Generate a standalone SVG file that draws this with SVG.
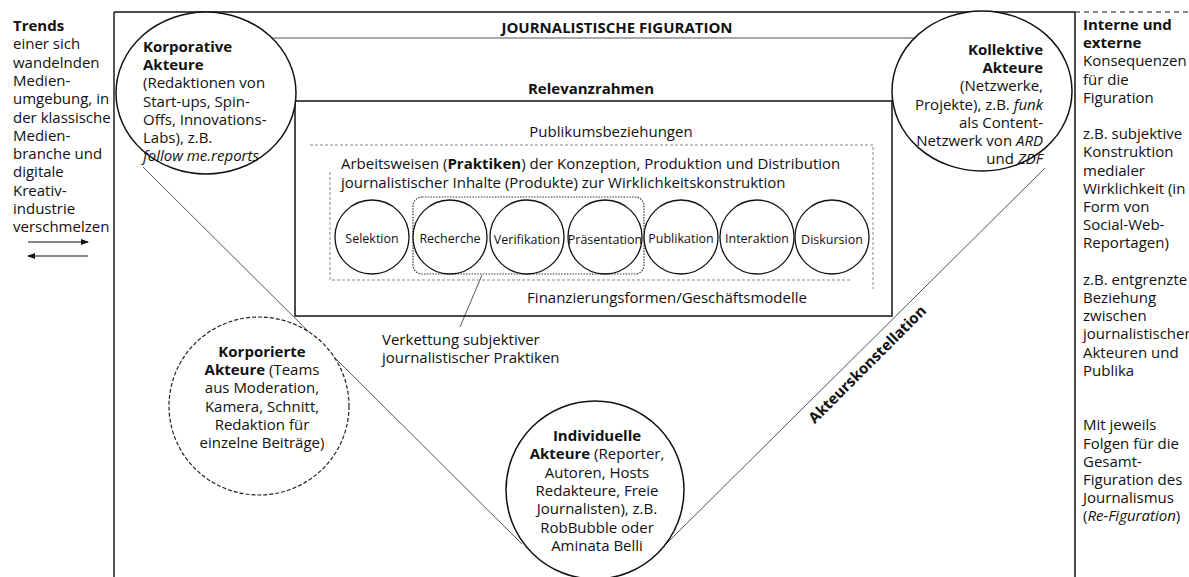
<svg xmlns="http://www.w3.org/2000/svg" width="1189" height="577" viewBox="0 0 1189 577">
<style>
text{font-family:"Open Sans","Noto Sans","DejaVu Sans",sans-serif;fill:#111;font-size:15px}
.b{font-weight:bold}
.i{font-style:italic}
.sm{font-size:12.5px}
.frame{fill:none;stroke:#111;stroke-width:1.5}
.thin{fill:none;stroke:#555;stroke-width:1}
.node{fill:#fff;stroke:#111;stroke-width:1.5}
.practice{fill:#fff;stroke:#111;stroke-width:1.3}
.dash{fill:none;stroke:#888;stroke-width:1;stroke-dasharray:3 2}
</style>
<defs>
<marker id="ah" markerWidth="8" markerHeight="6" refX="7" refY="3" orient="auto" markerUnits="userSpaceOnUse">
<path d="M0,0 L8,3 L0,6 z" fill="#111"/>
</marker>
</defs>
<rect width="1189" height="577" fill="#fff"/>

<g id="frame">
<line x1="114" y1="12" x2="114" y2="577" stroke="#555" stroke-width="2"/>
<line x1="114" y1="12" x2="1075" y2="12" class="frame"/>
<line x1="1075" y1="12" x2="1075" y2="577" class="frame"/>
<line x1="1075" y1="12" x2="1189" y2="12" stroke="#111" stroke-width="1.2" stroke-dasharray="5 4"/>
<text x="617" y="33" text-anchor="middle" class="b" font-size="14">JOURNALISTISCHE FIGURATION</text>
</g>

<g id="connectors">
<line x1="270" y1="38" x2="917" y2="38" class="thin"/>
<line x1="143" y1="167" x2="522" y2="544" class="thin"/>
<line x1="1045" y1="168" x2="665" y2="545" class="thin"/>
<line x1="482" y1="275" x2="460" y2="327" class="thin"/>
</g>

<g id="relevanzrahmen">
<rect x="295" y="101" width="597" height="215" class="frame"/>
<text x="591" y="94" text-anchor="middle" class="b">Relevanzrahmen</text>
<text x="611" y="137" text-anchor="middle">Publikumsbeziehungen</text>
<text x="667" y="303" text-anchor="middle">Finanzierungsformen/Geschäftsmodelle</text>
</g>

<g id="praktiken">
<path d="M310,145 H873 V289 M330,172 V280 H852" class="dash"/>
<text x="341" y="169">Arbeitsweisen (<tspan class="b">Praktiken</tspan>) der Konzeption, Produktion und Distribution</text>
<text x="341" y="188">journalistischer Inhalte (Produkte) zur Wirklichkeitskonstruktion</text>
</g>

<g id="verkettung">
<rect x="413" y="197" width="231" height="77" rx="9" fill="none" stroke="#333" stroke-width="1.2" stroke-dasharray="1.5 1.3"/>
<text x="382" y="345">Verkettung subjektiver</text>
<text x="382" y="363">journalistischer Praktiken</text>
</g>

<g id="selektion"><circle cx="372" cy="237" r="37" class="practice"/><text x="372" y="243" text-anchor="middle" class="sm">Selektion</text></g>
<g id="recherche"><circle cx="450" cy="237" r="37" class="practice"/><text x="450" y="243" text-anchor="middle" class="sm">Recherche</text></g>
<g id="verifikation"><circle cx="527" cy="237" r="37" class="practice"/><text x="527" y="244" text-anchor="middle" class="sm">Verifikation</text></g>
<g id="praesentation"><circle cx="605" cy="237" r="37" class="practice"/><text x="605" y="244" text-anchor="middle" class="sm">Präsentation</text></g>
<g id="publikation"><circle cx="681" cy="237" r="37" class="practice"/><text x="681" y="243" text-anchor="middle" class="sm">Publikation</text></g>
<g id="interaktion"><circle cx="757" cy="237" r="37" class="practice"/><text x="757" y="243" text-anchor="middle" class="sm">Interaktion</text></g>
<g id="diskursion"><circle cx="832" cy="237" r="37" class="practice"/><text x="832" y="244" text-anchor="middle" class="sm">Diskursion</text></g>

<g id="korporative">
<ellipse cx="206" cy="93" rx="90" ry="81" class="node"/>
<text x="143" y="52"><tspan class="b">Korporative</tspan><tspan x="143" dy="18.2" class="b">Akteure</tspan><tspan x="143" dy="18.2">(Redaktionen von</tspan><tspan x="143" dy="18.2">Start-ups, Spin-</tspan><tspan x="143" dy="18.2">Offs, Innovations-</tspan><tspan x="143" dy="18.2">Labs), z.B.</tspan><tspan x="143" dy="18.2" class="i">follow me.reports</tspan></text>
</g>

<g id="kollektive">
<ellipse cx="982" cy="91" rx="90" ry="80" class="node"/>
<text x="1043" y="55" text-anchor="end"><tspan class="b">Kollektive</tspan><tspan x="1043" dy="18.2" class="b">Akteure</tspan><tspan x="1043" dy="18.2">(Netzwerke,</tspan><tspan x="1043" dy="18.2">Projekte), z.B. <tspan class="i">funk</tspan></tspan><tspan x="1043" dy="18.2">als Content-</tspan><tspan x="1043" dy="18.2">Netzwerk von <tspan class="i">ARD</tspan></tspan><tspan x="1043" dy="18.2">und <tspan class="i">ZDF</tspan></tspan></text>
</g>

<g id="korporierte">
<ellipse cx="259" cy="406" rx="90" ry="89" fill="#fff" stroke="#222" stroke-width="1.2" stroke-dasharray="4 2"/>
<text x="262" y="357" text-anchor="middle"><tspan class="b">Korporierte</tspan><tspan x="262" dy="18.2"><tspan class="b">Akteure</tspan> (Teams</tspan><tspan x="262" dy="18.2">aus Moderation,</tspan><tspan x="262" dy="18.2">Kamera, Schnitt,</tspan><tspan x="262" dy="18.2">Redaktion für</tspan><tspan x="262" dy="18.2">einzelne Beiträge)</tspan></text>
</g>

<g id="individuelle">
<circle cx="595" cy="490" r="89" class="node"/>
<text x="597" y="441" text-anchor="middle"><tspan class="b">Individuelle</tspan><tspan x="597" dy="18.3"><tspan class="b">Akteure</tspan> (Reporter,</tspan><tspan x="597" dy="18.3">Autoren, Hosts</tspan><tspan x="597" dy="18.3">Redakteure, Freie</tspan><tspan x="597" dy="18.3">Journalisten), z.B.</tspan><tspan x="597" dy="18.3">RobBubble oder</tspan><tspan x="597" dy="18.3">Aminata Belli</tspan></text>
</g>

<g id="akteurskonstellation">
<text x="871" y="368" text-anchor="middle" class="b" font-size="14" transform="rotate(-45 871 368)">Akteurskonstellation</text>
</g>

<g id="trends">
<text x="13" y="31"><tspan class="b">Trends</tspan><tspan x="13" dy="18.3">einer sich</tspan><tspan x="13" dy="18.3">wandelnden</tspan><tspan x="13" dy="18.3">Medien-</tspan><tspan x="13" dy="18.3">umgebung, in</tspan><tspan x="13" dy="18.3">der klassische</tspan><tspan x="13" dy="18.3">Medien-</tspan><tspan x="13" dy="18.3">branche und</tspan><tspan x="13" dy="18.3">digitale</tspan><tspan x="13" dy="18.3">Kreativ-</tspan><tspan x="13" dy="18.3">industrie</tspan><tspan x="13" dy="18.3">verschmelzen</tspan></text>
<line x1="28" y1="242" x2="88" y2="242" stroke="#111" stroke-width="1" marker-end="url(#ah)"/>
<line x1="88" y1="256" x2="28" y2="256" stroke="#111" stroke-width="1" marker-end="url(#ah)"/>
</g>

<g id="konsequenzen">
<text x="1083" y="30"><tspan class="b">Interne und</tspan><tspan x="1083" dy="18.2" class="b">externe</tspan><tspan x="1083" dy="18.2">Konsequenzen</tspan><tspan x="1083" dy="18.2">für die</tspan><tspan x="1083" dy="18.2">Figuration</tspan><tspan x="1083" dy="36.4">z.B. subjektive</tspan><tspan x="1083" dy="18.2">Konstruktion</tspan><tspan x="1083" dy="18.2">medialer</tspan><tspan x="1083" dy="18.2">Wirklichkeit (in</tspan><tspan x="1083" dy="18.2">Form von</tspan><tspan x="1083" dy="18.2">Social-Web-</tspan><tspan x="1083" dy="18.2">Reportagen)</tspan><tspan x="1083" dy="36.4">z.B. entgrenzte</tspan><tspan x="1083" dy="18.2">Beziehung</tspan><tspan x="1083" dy="18.2">zwischen</tspan><tspan x="1083" dy="18.2">journalistischen</tspan><tspan x="1083" dy="18.2">Akteuren und</tspan><tspan x="1083" dy="18.2">Publika</tspan><tspan x="1083" dy="54.6">Mit jeweils</tspan><tspan x="1083" dy="18.2">Folgen für die</tspan><tspan x="1083" dy="18.2">Gesamt-</tspan><tspan x="1083" dy="18.2">Figuration des</tspan><tspan x="1083" dy="18.2">Journalismus</tspan><tspan x="1083" dy="18.2">(<tspan class="i">Re-Figuration</tspan>)</tspan></text>
</g>
</svg>
